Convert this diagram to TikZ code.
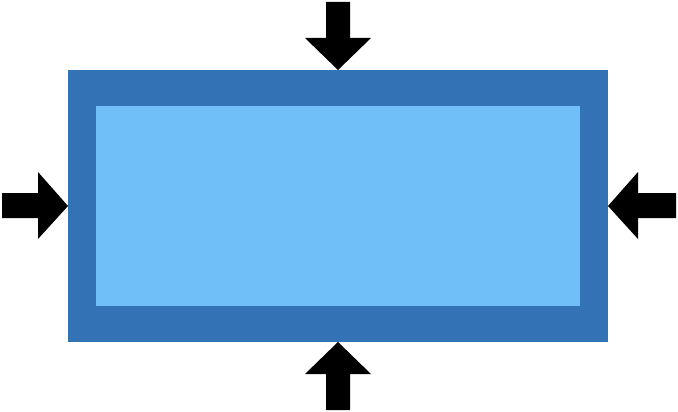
\documentclass[tikz,border=0pt]{standalone}
\definecolor{outerblue}{RGB}{51,114,181}
\definecolor{innerblue}{RGB}{113,191,249}
\begin{document}
\begin{tikzpicture}[x=1pt,y=-1pt,
  arrowshape/.style={fill=black,draw=none}]
\useasboundingbox (0,0) rectangle (678,412);
\fill[outerblue] (68,70) rectangle (608,342);
\fill[innerblue] (96,106) rectangle (580,306);
% top arrow
\fill[arrowshape] (326,2) -- (350,2) -- (350,38) -- (371,38) -- (338,70) -- (305,38) -- (326,38) -- cycle;
% bottom arrow
\fill[arrowshape] (326,410) -- (350,410) -- (350,374) -- (371,374) -- (338,342) -- (305,374) -- (326,374) -- cycle;
% left arrow
\fill[arrowshape] (2,193) -- (2,218) -- (38,218) -- (38,239) -- (68,206) -- (38,172) -- (38,193) -- cycle;
% right arrow
\fill[arrowshape] (676,193) -- (676,218) -- (638,218) -- (638,239) -- (608,206) -- (638,172) -- (638,193) -- cycle;
\end{tikzpicture}
\end{document}
